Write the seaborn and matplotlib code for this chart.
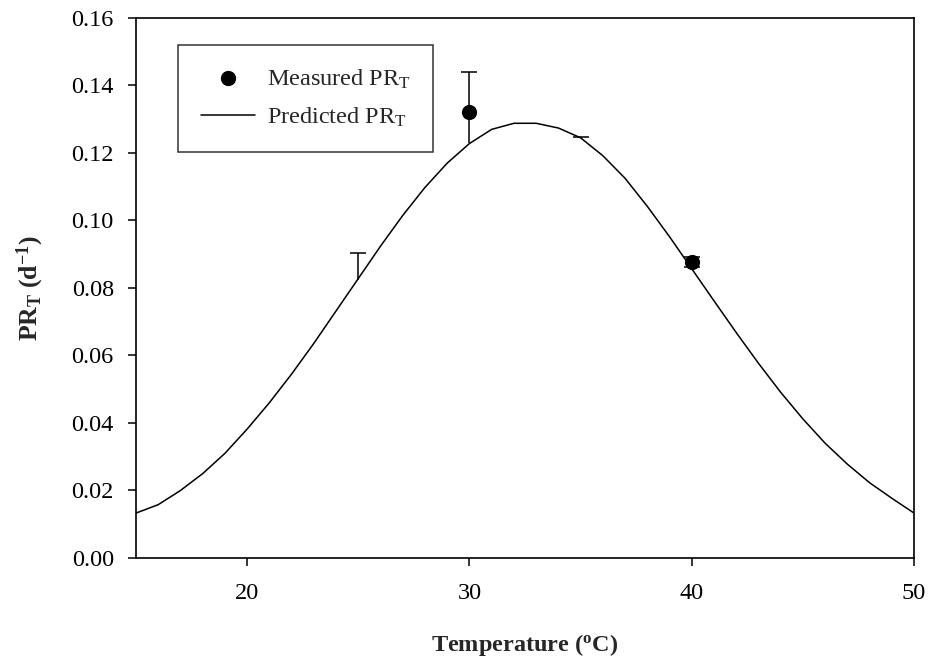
import numpy as np
import pandas as pd
import matplotlib
matplotlib.use("Agg")
import matplotlib.pyplot as plt
import seaborn as sns
from matplotlib.lines import Line2D

# ---- data ----
pred_T = list(range(15, 51))
pred_val = [0.0133, 0.0158, 0.0200, 0.0250, 0.0310, 0.0382, 0.0460, 0.0545,
            0.0636, 0.0732, 0.0828, 0.0924, 0.1015, 0.1098, 0.1170, 0.1228,
            0.1270, 0.1288, 0.1288, 0.1274, 0.1245, 0.1192, 0.1125, 0.1042,
            0.0952, 0.0857, 0.0762, 0.0668, 0.0577, 0.0491, 0.0412, 0.0340,
            0.0278, 0.0223, 0.0177, 0.0133]

meas_T = [25, 30, 35, 40]
meas_val = [0.0825, 0.1320, 0.1243, 0.0878]
bar_low = [0.0825, 0.1230, 0.1243, 0.0863]
bar_high = [0.0903, 0.1440, 0.1246, 0.0893]
low_cap = [False, False, False, True]
marker_visible = [False, True, False, True]

x_ticks = [20, 30, 40, 50]
y_ticks = [0.00, 0.02, 0.04, 0.06, 0.08, 0.10, 0.12, 0.14, 0.16]

# ---- style ----
sns.set_style("ticks")
plt.rcParams["font.family"] = ["Liberation Serif", "DejaVu Serif"]
plt.rcParams["mathtext.fontset"] = "custom"
plt.rcParams["mathtext.rm"] = "Liberation Serif"
plt.rcParams["mathtext.it"] = "Liberation Serif:italic"
plt.rcParams["mathtext.bf"] = "Liberation Serif:bold"

FS = 17.5

fig = plt.figure(figsize=(9.29, 6.59), dpi=100)
ax = fig.add_axes([0.1464, 0.1533, 0.8375, 0.8194])

pred_df = pd.DataFrame({"T": pred_T, "v": pred_val})
sns.lineplot(data=pred_df, x="T", y="v", ax=ax, color="black", linewidth=1.1, zorder=3)

# error bars
cap_hw = 0.36
for t, lo, hi, lc in zip(meas_T, bar_low, bar_high, low_cap):
    ax.vlines(t, lo, hi, color="black", linewidth=1.1, zorder=2)
    ax.hlines(hi, t - cap_hw, t + cap_hw, color="black", linewidth=1.1, zorder=2)
    if lc:
        ax.hlines(lo, t - cap_hw, t + cap_hw, color="black", linewidth=1.1, zorder=2)

meas_df = pd.DataFrame({"T": meas_T, "v": meas_val, "vis": marker_visible})
sns.scatterplot(data=meas_df[meas_df["vis"]], x="T", y="v", ax=ax, color="black",
                s=120, edgecolor="black", linewidth=0, zorder=4)

ax.set_xlim(15, 50)
ax.set_ylim(0, 0.16)
ax.set_xticks(x_ticks)
ax.set_yticks(y_ticks)
ax.set_yticklabels([f"{v:.2f}" for v in y_ticks])
ax.tick_params(direction="out", length=6, width=1.1, labelsize=FS, colors="black", pad=10)
ax.tick_params(axis="x", pad=12)
for s in ax.spines.values():
    s.set_visible(True)
    s.set_linewidth(1.2)
    s.set_color("black")

ax.set_xlabel(r"Temperature ($\mathbf{^{o}}$C)", fontsize=FS, fontweight="bold", labelpad=20)
ax.set_ylabel(r"$\mathbf{PR_T\ (d^{-1})}$", fontsize=FS + 1, labelpad=18)

handles = [
    Line2D([], [], marker="o", color="black", linestyle="none", markersize=10),
    Line2D([], [], color="black", linewidth=1.1),
]
labels = [r"Measured PR$_\mathrm{T}$", r"Predicted PR$_\mathrm{T}$"]
leg = ax.legend(handles, labels, loc="upper left", bbox_to_anchor=(0.054, 0.95),
                fontsize=FS, frameon=True, fancybox=False, edgecolor="black",
                handlelength=2.2, borderpad=0.95, labelspacing=0.6, handletextpad=0.5,
                borderaxespad=0)
leg.get_frame().set_linewidth(1.1)

fig.savefig("out.png", dpi=100)
